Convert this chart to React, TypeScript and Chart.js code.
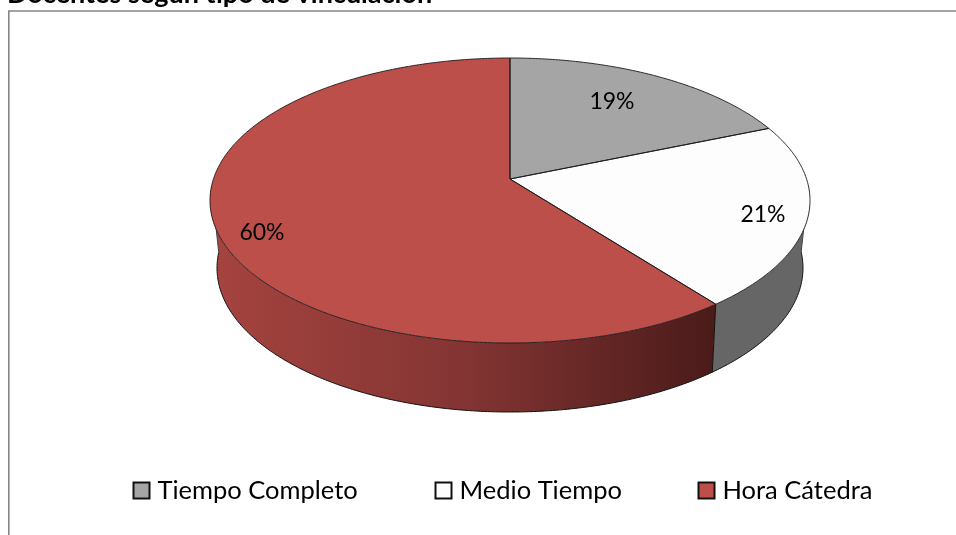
import React, { useEffect, useRef } from "react";
import { Chart, registerables } from "chart.js";

Chart.register(...registerables);

const title = "Docentes según tipo de vinculación";
const categories = ["Tiempo Completo", "Medio Tiempo", "Hora Cátedra"];
const shares = [18.7, 20.8, 60.4];
const topColors = ["#a5a5a5", "#fdfdfd", "#bd4f4b"];
const wallColors = ["#666666", "#666666", "#a5433f"];

const FONT = "Lato, Carlito, sans-serif";

type Rim = { cx: number; cy: number; rx: number; up: number; down: number };
const upperRim: Rim = { cx: 510, cy: 179, rx: 300, up: 121, down: 164 };
const lowerRim: Rim = { cx: 510, cy: 245, rx: 293, up: 121, down: 167 };
const WALL_FROM = 1.62;
const WALL_TO = 4.66;

// Perspective projection of a point on the unit disc (angle clockwise from the top)
function project(rim: Rim, theta: number, r = 1): [number, number] {
  const k = (rim.down - rim.up) / (rim.down + rim.up);
  const b = 2 / (1 / rim.up + 1 / rim.down);
  const a = rim.rx * Math.sqrt(1 - k * k);
  const u = r * Math.sin(theta);
  const v = r * Math.cos(theta);
  const d = 1 + k * v;
  return [rim.cx + (a * u) / d, rim.cy - (b * v) / d];
}

function rimPath(ctx: CanvasRenderingContext2D, rim: Rim, a: number, b: number, move: boolean) {
  const n = Math.max(8, Math.ceil(Math.abs(b - a) * 90));
  for (let i = 0; i <= n; i++) {
    const [x, y] = project(rim, a + ((b - a) * i) / n);
    if (i === 0 && move) ctx.moveTo(x, y);
    else ctx.lineTo(x, y);
  }
}

const perspectivePie = {
  id: "perspectivePie",
  beforeDatasetsDraw(chart: any) {
    const ctx: CanvasRenderingContext2D = chart.ctx;
    const arcs = chart.getDatasetMeta(0).data;
    const range = arcs.map((e: any) => [e.startAngle + Math.PI / 2, e.endAngle + Math.PI / 2]);
    ctx.save();
    ctx.lineJoin = "round";

    // walls: only the part of each slice that faces the viewer
    range.forEach(([a0, b0]: number[], i: number) => {
      const a = Math.max(a0, WALL_FROM);
      const b = Math.min(b0, WALL_TO);
      if (b <= a) return;
      ctx.beginPath();
      rimPath(ctx, upperRim, a, b, true);
      rimPath(ctx, lowerRim, b, a, false);
      ctx.closePath();
      if (i === 2) {
        const g = ctx.createLinearGradient(214, 0, 716, 0);
        g.addColorStop(0, "#a5433f");
        g.addColorStop(0.5, "#833533");
        g.addColorStop(1, "#4a1b1a");
        ctx.fillStyle = g;
      } else {
        ctx.fillStyle = wallColors[i];
      }
      ctx.fill();
    });

    // lower rim and edges of the wall
    ctx.strokeStyle = "#111111";
    ctx.lineWidth = 1;
    ctx.beginPath();
    rimPath(ctx, lowerRim, WALL_FROM, WALL_TO, true);
    ctx.stroke();
    const [bx0, by0] = project(upperRim, range[1][1]);
    const [bx1, by1] = project(lowerRim, range[1][1]);
    ctx.beginPath();
    ctx.moveTo(bx0, by0);
    ctx.lineTo(bx1, by1);
    ctx.stroke();
    ctx.strokeStyle = "#444444";
    [WALL_FROM, WALL_TO].forEach((t) => {
      const [x0, y0] = project(upperRim, t);
      const [x1, y1] = project(lowerRim, t);
      ctx.beginPath();
      ctx.moveTo(x0, y0);
      ctx.lineTo(x1, y1);
      ctx.stroke();
    });

    // top face
    range.forEach(([a, b]: number[], i: number) => {
      ctx.beginPath();
      ctx.moveTo(upperRim.cx, upperRim.cy);
      rimPath(ctx, upperRim, a, b, false);
      ctx.closePath();
      ctx.fillStyle = topColors[i];
      ctx.fill();
    });
    range.forEach(([a, b]: number[]) => {
      ctx.beginPath();
      ctx.moveTo(upperRim.cx, upperRim.cy);
      rimPath(ctx, upperRim, a, b, false);
      ctx.closePath();
      ctx.strokeStyle = "#1a1a1a";
      ctx.lineWidth = 0.9;
      ctx.stroke();
    });
    ctx.restore();
    return false;
  },
  afterDraw(chart: any) {
    const ctx: CanvasRenderingContext2D = chart.ctx;
    ctx.save();

    // frame (open at right and bottom)
    ctx.strokeStyle = "#868686";
    ctx.lineWidth = 1.6;
    ctx.beginPath();
    ctx.moveTo(8.8, 535);
    ctx.lineTo(8.8, 11);
    ctx.lineTo(956, 11);
    ctx.stroke();

    // title, cropped by the top of the picture
    ctx.fillStyle = "#000000";
    ctx.textAlign = "left";
    ctx.textBaseline = "alphabetic";
    ctx.font = `bold 27px ${FONT}`;
    ctx.fillText(chart.options.plugins.perspectivePie.title, 7, 3);

    // percent labels
    ctx.font = `23px ${FONT}`;
    ctx.textAlign = "center";
    ctx.textBaseline = "middle";
    const anchors = [[612, 102], [763, 215], [262, 233]];
    const values: number[] = chart.data.datasets[0].data;
    const total = values.reduce((s, v) => s + v, 0);
    values.forEach((v, i) => {
      ctx.fillText(`${Math.round((v / total) * 100)}%`, anchors[i][0], anchors[i][1]);
    });

    // legend
    const boxX = [133.5, 435.5, 698.5];
    ctx.font = `25.5px ${FONT}`;
    ctx.textAlign = "left";
    ctx.textBaseline = "alphabetic";
    chart.data.labels.forEach((label: string, i: number) => {
      ctx.fillStyle = topColors[i];
      ctx.fillRect(boxX[i], 482.5, 16, 16);
      ctx.strokeStyle = "#111111";
      ctx.lineWidth = 2;
      ctx.strokeRect(boxX[i], 482.5, 16, 16);
      ctx.fillStyle = "#000000";
      ctx.fillText(label, boxX[i] + 24, 499);
    });
    ctx.restore();
  },
};

export default function App() {
  const ref = useRef<HTMLCanvasElement>(null);
  useEffect(() => {
    const chart = new Chart(ref.current!, {
      type: "pie",
      data: {
        labels: categories,
        datasets: [{ data: shares, backgroundColor: topColors, borderColor: "#222222", borderWidth: 1 }],
      },
      options: {
        animation: false,
        responsive: false,
        plugins: {
          legend: { display: false },
          title: { display: false },
          tooltip: { enabled: false },
          perspectivePie: { title },
        } as any,
      },
      plugins: [perspectivePie],
    });
    return () => chart.destroy();
  }, []);
  return (
    <canvas
      ref={ref}
      width={956}
      height={535}
      style={{ position: "absolute", left: 0, top: 0, display: "block", background: "#ffffff" }}
    />
  );
}
